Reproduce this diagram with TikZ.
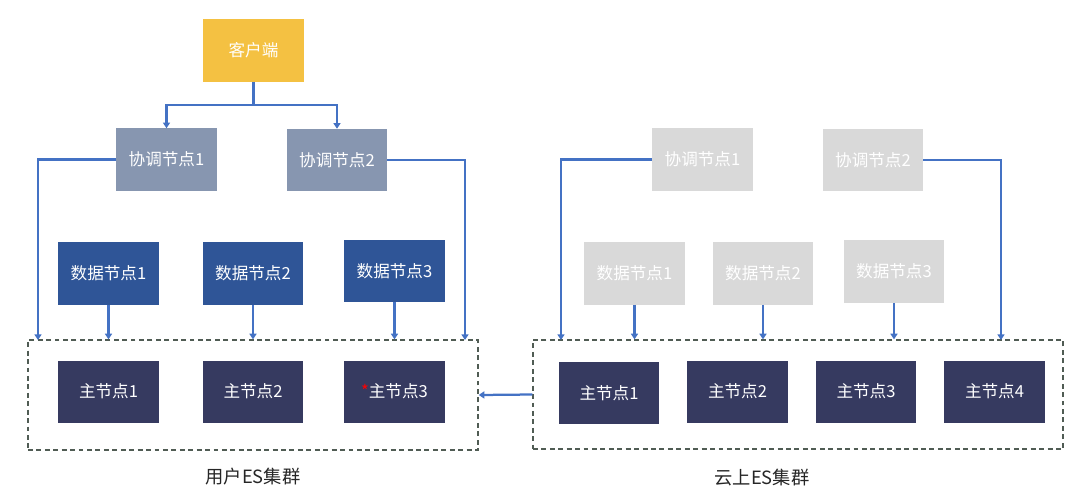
\documentclass[tikz,border=0pt]{standalone}
\usepackage{fontspec}
\setmainfont{Noto Sans CJK SC}
\usepackage{xcolor}
\usetikzlibrary{arrows.meta}

\definecolor{clientcol}{RGB}{244,193,66}
\definecolor{coordcol}{RGB}{135,150,176}
\definecolor{datacol}{RGB}{47,85,151}
\definecolor{mastercol}{RGB}{54,58,96}
\definecolor{idlecol}{RGB}{217,217,217}
\definecolor{linkcol}{RGB}{68,114,196}
\definecolor{framecol}{RGB}{80,92,84}

\begin{document}
\begin{tikzpicture}[x=0.025cm, y=-0.025cm,
  esbox/.style={minimum width=2.5cm, minimum height=1.55cm, inner sep=0pt,
    text=white, font=\fontsize{11.8}{13}\selectfont},
  client/.style={esbox, fill=clientcol},
  coordnode/.style={esbox, fill=coordcol},
  datanode/.style={esbox, fill=datacol},
  masternode/.style={esbox, fill=mastercol},
  idlenode/.style={esbox, fill=idlecol},
  cluster/.style={draw=framecol, line width=0.9pt, dash pattern=on 3.5pt off 2.5pt},
  link/.style={draw=linkcol, line width=1.6pt,
    -{Triangle[width=5pt,length=4pt]}}]

  \useasboundingbox (0,0) rectangle (1080,496);

  % clusters
  \node[cluster, minimum width=11.25cm, minimum height=2.75cm] (lbox) at (253,395) {};
  \node[cluster, minimum width=13.25cm, minimum height=2.725cm] (rbox) at (798,394.5) {};

  % user cluster
  \node[client] (cli) at (253.5,50.5) {客户端};
  \node[coordnode] (lc1) at (166.5,159.5) {协调节点1};
  \node[coordnode] (lc2) at (337,160) {协调节点2};
  \node[datanode] (ld1) at (108.5,273.5) {数据节点1};
  \node[datanode] (ld2) at (253,273.5) {数据节点2};
  \node[datanode] (ld3) at (394.5,271) {数据节点3};
  \node[masternode] (lm1) at (108.5,391.5) {主节点1};
  \node[masternode] (lm2) at (253,391.5) {主节点2};
  \node[masternode] (lm3) at (394.5,391.5) {{\color{red}*}主节点3};

  % cloud cluster
  \node[idlenode] (rc1) at (702.5,159.5) {协调节点1};
  \node[idlenode] (rc2) at (873,160) {协调节点2};
  \node[idlenode] (rd1) at (634.5,273.5) {数据节点1};
  \node[idlenode] (rd2) at (763,273.5) {数据节点2};
  \node[idlenode] (rd3) at (894,271.5) {数据节点3};
  \node[masternode] (rm1) at (609,393) {主节点1};
  \node[masternode] (rm2) at (737.5,391.5) {主节点2};
  \node[masternode] (rm3) at (866,391.5) {主节点3};
  \node[masternode] (rm4) at (994.5,391.5) {主节点4};

  \node[font=\fontsize{13}{15}\selectfont, text=black!85] (lname) at (253,477) {用户ES集群};
  \node[font=\fontsize{13}{15}\selectfont, text=black!85] (rname) at (762,478) {云上ES集群};

  % connectors
  \coordinate (split) at (253.5,105);
  \coordinate (lin1) at (38,340);
  \coordinate (lin2) at (465,340);
  \coordinate (rin1) at (561,340);
  \coordinate (rin2) at (1001,340);

  \draw[link, -] (cli.south) -- (split);
  \draw[link] (split) -| (lc1.north);
  \draw[link] (split) -| (lc2.north);
  \draw[link] (lc1.west) -| (lin1);
  \draw[link] (lc2.east) -| (lin2);
  \draw[link] (rc1.west) -| (rin1);
  \draw[link] (rc2.east) -| (rin2);
  \foreach \n in {ld1,ld2,ld3}
    \draw[link] (\n.south) -- (\n.south |- lbox.north);
  \foreach \n in {rd1,rd2,rd3}
    \draw[link] (\n.south) -- (\n.south |- rbox.north);
  \draw[link] (rbox.west) -- (lbox.east);
\end{tikzpicture}
\end{document}
